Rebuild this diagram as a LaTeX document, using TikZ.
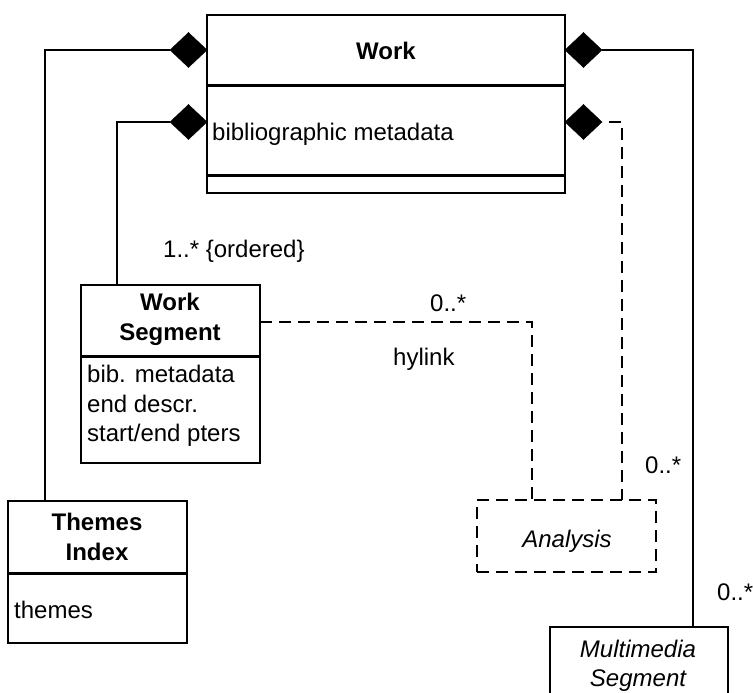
\documentclass[tikz,border=0pt]{standalone}
\usepackage{fontspec}
\setmainfont{Liberation Sans}
\usetikzlibrary{shapes.geometric}
\begin{document}
\begin{tikzpicture}[x=1pt,y=-1pt,
 box/.style={draw,line width=1.6pt,inner sep=0pt,outer sep=0pt,rectangle},
 dbox/.style={box,dash pattern=on 12pt off 7pt},
 divider/.style={line width=3pt},
 diam/.style={diamond,fill=black,draw=black,inner sep=0pt,outer sep=0pt,minimum width=37pt,minimum height=35pt},
 conn/.style={line width=1.6pt},
 dconn/.style={line width=1.6pt,dash pattern=on 12pt off 7pt},
 txt/.style={font=\fontsize{24}{30}\selectfont,inner sep=0pt,anchor=base},
 btxt/.style={txt,font=\fontsize{24}{30}\selectfont\bfseries},
 itxt/.style={txt,font=\fontsize{24}{30}\selectfont\itshape},
]
\useasboundingbox (0,0) rectangle (753,693);
\fill[white] (0,0) rectangle (753,693);

% class boxes
\node[box,minimum width=358pt,minimum height=178pt] (work) at (386,104) {};
\draw[divider] (work.west |- 0,86) -- (work.east |- 0,86);
\draw[divider] (work.west |- 0,175) -- (work.east |- 0,175);

\node[box,minimum width=179pt,minimum height=178pt] (ws) at (170.5,374) {};
\draw[divider] (ws.west |- 0,356) -- (ws.east |- 0,356);

\node[box,minimum width=179pt,minimum height=142pt] (ti) at (97.5,572) {};
\draw[divider] (ti.west |- 0,573) -- (ti.east |- 0,573);

\node[dbox,minimum width=179pt,minimum height=72pt] (an) at (566.5,536) {};

\node[box,minimum width=178pt,minimum height=93pt] (mm) at (639,673.5) {};

% diamonds
\node[diam,anchor=east] (dl1) at (work.west |- 0,50) {};
\node[diam,anchor=east] (dl2) at (work.west |- 0,122) {};
\node[diam,anchor=west] (dr1) at (work.east |- 0,50) {};
\node[diam,anchor=west] (dr2) at (work.east |- 0,122) {};

% connectors
\draw[conn] (dl1.west) -| ([xshift=37pt]ti.north west);
\draw[conn] (dl2.west) -| ([xshift=36pt]ws.north west);
\draw[conn] (dr1.east) -| ([xshift=143pt]mm.north west);
\draw[dconn,dash phase=12pt] (dr2.east) -| ([xshift=145pt]an.north west);
\draw[dconn] (ws.east |- 0,322) -| ([xshift=55pt]an.north west);

% texts
\node[btxt] (workT) at (386,60) {Work};
\node[txt,anchor=base west] (workA) at (212,140) {bibliographic metadata};

\node[btxt] (wsT1) at (170,310) {Work};
\node[btxt] (wsT2) at (170,340) {Segment};
\node[txt,anchor=base west] (wsA1) at (87,382) {bib. metadata};
\node[txt,anchor=base west] (wsA2) at (87,412) {end descr.};
\node[txt,anchor=base west] (wsA3) at (87,441) {start/end pters};

\node[btxt] (tiT1) at (97,530) {Themes};
\node[btxt] (tiT2) at (97,560) {Index};
\node[txt,anchor=base west] (tiA) at (14,618) {themes};

\node[itxt] (anT) at (567,547) {Analysis};
\node[itxt] (mmT1) at (638,657) {Multimedia};
\node[itxt] (mmT2) at (638,686) {Segment};

% multiplicities
\node[txt,anchor=base west] (m1) at (163,257) {1..* \{ordered\}};
\node[txt,anchor=base west] (m2) at (430,311) {0..*};
\node[txt,anchor=base west] (hy) at (393,365) {hylink};
\node[txt,anchor=base west] (m3) at (645,473) {0..*};
\node[txt,anchor=base west] (m4) at (717,600) {0..*};
\end{tikzpicture}
\end{document}
